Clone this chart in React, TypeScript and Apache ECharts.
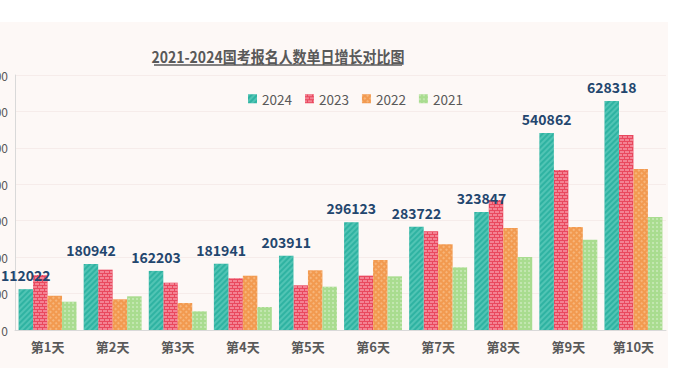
import React, { useEffect, useRef } from "react";
import * as echarts from "echarts";

const categories = ["第1天", "第2天", "第3天", "第4天", "第5天", "第6天", "第7天", "第8天", "第9天", "第10天"];
const years = ["2024", "2023", "2022", "2021"];
const s2024 = [112022, 180942, 162203, 181941, 203911, 296123, 283722, 323847, 540862, 628318];
const s2023 = [151000, 165600, 129900, 141900, 122700, 149200, 270800, 356900, 439200, 535300];
const s2022 = [94000, 84300, 74100, 149000, 163900, 192200, 235200, 280000, 282700, 442000];
const s2021 = [77700, 92500, 51300, 63100, 118900, 147300, 172000, 200400, 248000, 310200];
const yTicks = [0, 100000, 200000, 300000, 400000, 500000, 600000, 700000];
const titleText = "2021-2024国考报名人数单日增长对比图";

const colors = ["#2fb3a2", "#e9485e", "#f29a50", "#a9dc8f"];
const decals: any[] = [
  { symbol: "rect", symbolSize: 1, dashArrayX: [1, 0], dashArrayY: [1.5, 1.5], rotation: -Math.PI / 4, color: "rgba(200,255,245,0.22)" },
  { symbol: "rect", symbolSize: 1, dashArrayX: [[4, 1], [2, 1, 2, 0]], dashArrayY: [2, 1], rotation: 0, color: "rgba(255,200,210,0.45)" },
  { symbol: "rect", symbolSize: 1, dashArrayX: [2, 2], dashArrayY: [2, 2], rotation: Math.PI / 4, color: "rgba(255,230,200,0.35)" },
  { symbol: "circle", symbolSize: 0.8, dashArrayX: [2, 2], dashArrayY: [2, 2], rotation: 0, color: "rgba(255,255,255,0.45)" },
];

const font = '"Noto Sans CJK SC", "Noto Sans", sans-serif';

export default function App() {
  const ref = useRef<HTMLDivElement>(null);
  useEffect(() => {
    if (!ref.current) return;
    const chart = echarts.init(ref.current, null, { renderer: "svg" });
    const data = [s2024, s2023, s2022, s2021];
    chart.setOption({
      animation: false,
      backgroundColor: "#fdf8f6",
      textStyle: { fontFamily: font },
      graphic: [
        {
          type: "text",
          x: 318,
          y: 34,
          style: {
            text: titleText,
            fontSize: 14,
            fontWeight: "bold",
            fill: "#595959",
            fontFamily: font,
            align: "center",
            verticalAlign: "middle",
          },
          scaleY: 1.12,
        },
        {
          type: "line",
          shape: { x1: 194, y1: 43, x2: 442, y2: 43 },
          style: { stroke: "#595959", lineWidth: 1.3 },
        },
      ],
      legend: {
        data: years,
        left: 283,
        top: 65,
        itemWidth: 9,
        itemHeight: 9,
        itemGap: 13,
        icon: "rect",
        textStyle: { color: "#595959", fontSize: 13.5, fontFamily: font },
      },
      grid: { left: 55, right: 2, top: 53, bottom: 38, containLabel: false },
      xAxis: {
        type: "category",
        data: categories,
        axisLine: { lineStyle: { color: "#d9d9d9" } },
        axisTick: { show: false },
        axisLabel: { color: "#595959", fontSize: 13, fontWeight: "bold", margin: 10, fontFamily: font },
      },
      yAxis: {
        type: "value",
        min: yTicks[0],
        max: yTicks[yTicks.length - 1],
        interval: 100000,
        axisLine: { show: true, lineStyle: { color: "#d9d9d9" } },
        axisTick: { show: false },
        splitLine: { show: true, lineStyle: { color: "#f6ecea", width: 1 } },
        axisLabel: { color: "#595959", fontSize: 12, margin: 7, fontFamily: font },
      },
      series: years.map((y, i) => ({
        name: y,
        type: "bar",
        data: data[i],
        barGap: "0%",
        barCategoryGap: "11%",
        itemStyle: { color: colors[i], decal: decals[i] },
        label:
          i === 0
            ? {
                show: true,
                position: "top",
                distance: 7,
                color: "#23466e",
                fontSize: 14,
                fontWeight: "bold",
                fontFamily: font,
              }
            : { show: false },
        z: i === 0 ? 3 : 2,
      })),
    });
    return () => chart.dispose();
  }, []);
  return (
    <div style={{ position: "fixed", left: 0, top: 0, width: 677, height: 392, overflow: "hidden", background: "#ffffff" }}>
      <div ref={ref} style={{ position: "absolute", left: -40, top: 22, width: 708, height: 346 }} />
    </div>
  );
}
